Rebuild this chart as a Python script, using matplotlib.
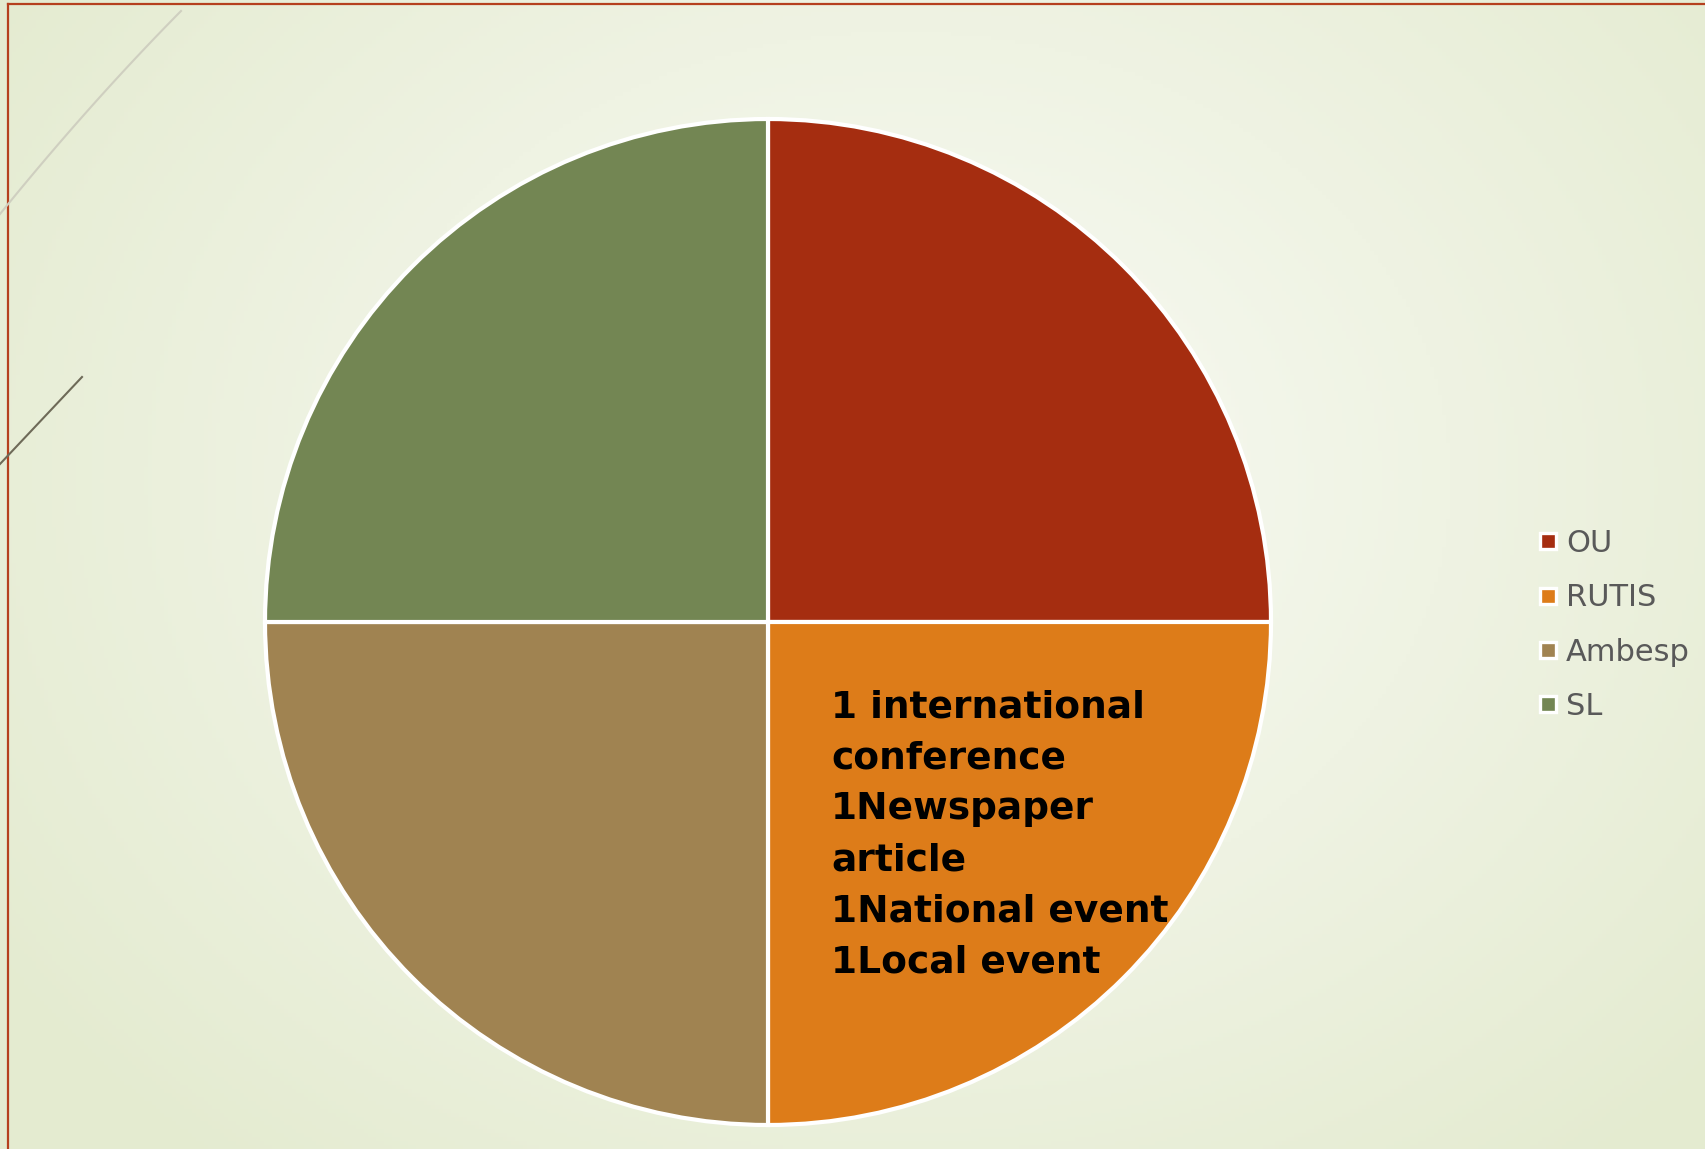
import numpy as np
import matplotlib
matplotlib.use("Agg")
import matplotlib.pyplot as plt
from matplotlib.lines import Line2D

# ---- data ----
categories = ["OU", "RUTIS", "Ambesp", "SL"]
values = [1, 1, 1, 1]
colors = ["#A52D10", "#DD7C19", "#A08351", "#738653"]
annotation_lines = ["1 international", "conference", "1Newspaper", "article",
                    "1National event", "1Local event"]

W, H = 1706, 1149
fig = plt.figure(figsize=(W / 100, H / 100), dpi=100)
ax = fig.add_axes([0, 0, 1, 1])

# background radial gradient
yy, xx = np.mgrid[0:H:4, 0:W:4]
cx, cy = 900, 480
d = np.sqrt(((xx - cx) / 1100.0) ** 2 + ((yy - cy) / 900.0) ** 2)
d = np.clip(d, 0, 1)
c0 = np.array([250, 251, 246]) / 255.0
c1 = np.array([228, 235, 208]) / 255.0
img = c0[None, None, :] * (1 - d[..., None]) + c1[None, None, :] * d[..., None]
ax.imshow(img, extent=(0, W, H, 0), zorder=0, aspect="auto")

# border lines
ax.plot([8.5, 8.5], [4, H], color="#B5401E", lw=1.6, zorder=1)
ax.plot([8.5, W], [4, 4], color="#B5401E", lw=1.6, zorder=1)
# decorative lines
t = np.linspace(0, 1, 50)
ax.plot(181 - 181 * t, 11 + 203 * t - 20 * t * (1 - t), color="#CFCFC0", lw=1.5, zorder=1)
ax.plot([82, 0], [377, 464], color="#6E6A58", lw=1.5, zorder=1)

# pie (y axis inverted below, so draw counterclockwise from -90 in data space)
wedges, _ = ax.pie(values, colors=colors, startangle=-90, counterclock=True,
                   center=(768, 622), radius=503, frame=True,
                   wedgeprops=dict(edgecolor="white", linewidth=3))
ax.set_xlim(0, W)
ax.set_ylim(H, 0)
ax.set_aspect("auto")
ax.axis("off")
for w in wedges:
    w.set_zorder(2)

# annotation text
ax.text(831, 689, "\n".join(annotation_lines), fontsize=27, fontweight="bold",
        family="DejaVu Sans", color="black", va="top", ha="left",
        linespacing=1.54, zorder=3)

# legend
handles = [Line2D([], [], marker="s", linestyle="none", markersize=11,
                  markerfacecolor=c, markeredgecolor="white", markeredgewidth=2.4)
           for c in colors]
leg = fig.legend(handles, categories, loc="center left",
                 bbox_to_anchor=(1540 / W, 1 - 625 / H), frameon=False,
                 fontsize=22, labelcolor="#595959", handlelength=0.55,
                 handletextpad=0.3, labelspacing=0.83, borderpad=0,
                 borderaxespad=0)

fig.savefig("out.png", dpi=100)
